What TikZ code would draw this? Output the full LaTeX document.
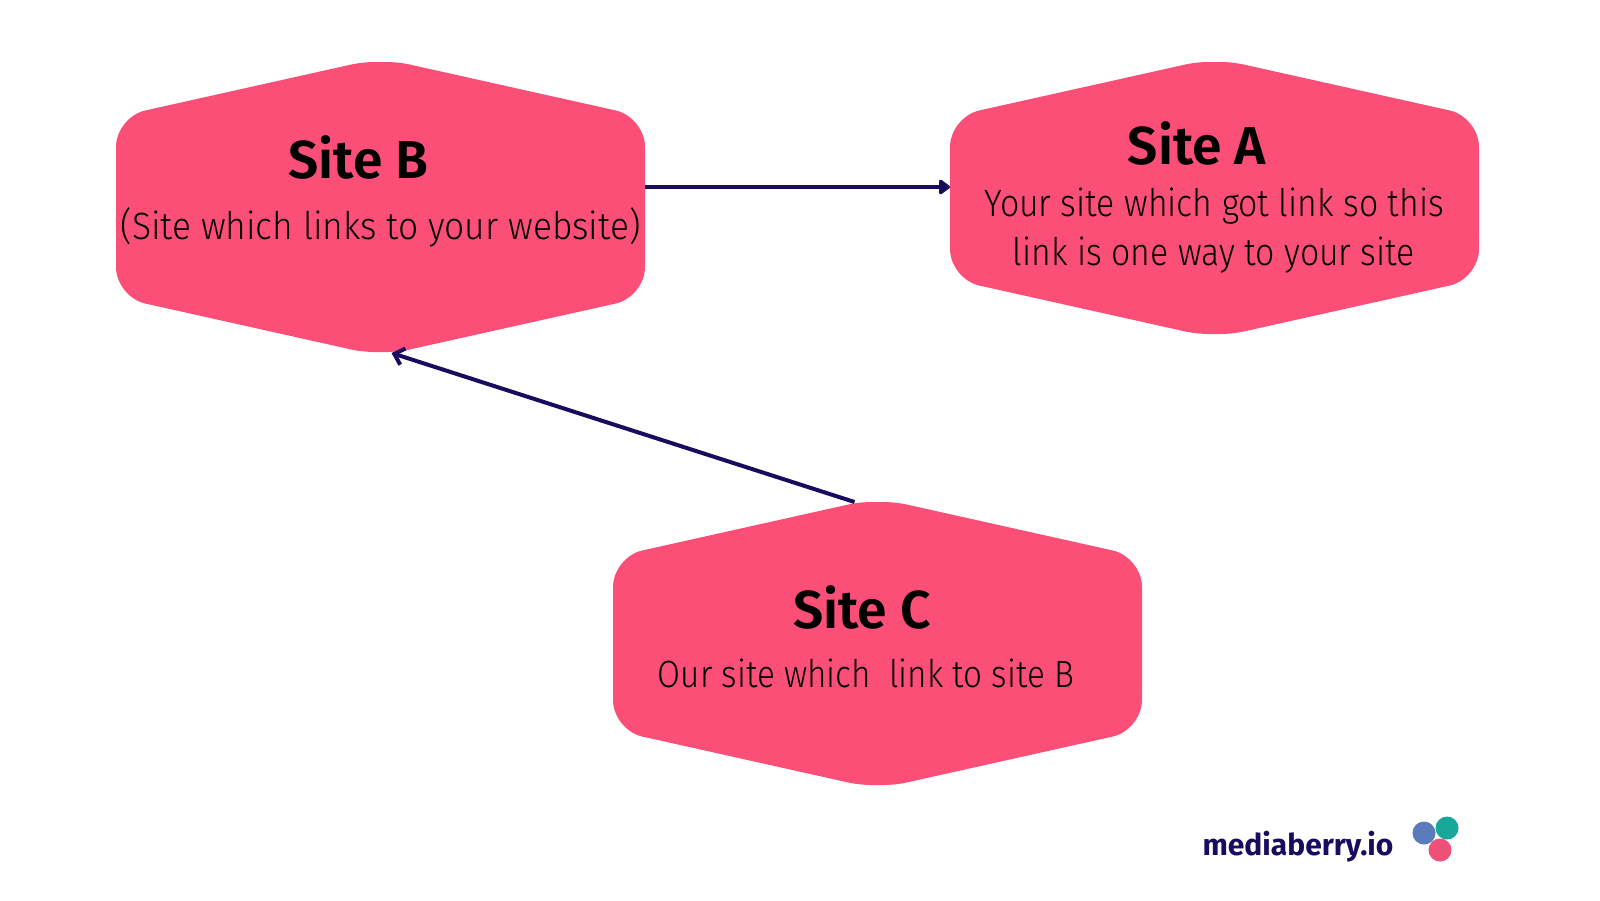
\documentclass[tikz,border=0pt]{standalone}
\usepackage{fontspec}
\setmainfont{Fira Sans}
\newfontfamily\bodyfont[UprightFont=* Light,FakeStretch=0.89]{Fira Sans}
\newfontfamily\bodyfontB[UprightFont=* Light,FakeStretch=0.93]{Fira Sans}
\newfontfamily\bodyfontC[UprightFont=* Light,FakeStretch=0.875]{Fira Sans}
\newfontfamily\titlefont[UprightFont=* SemiBold]{Fira Sans}
\newfontfamily\logofont[UprightFont=* Bold]{Fira Sans}
\usetikzlibrary{calc,arrows.meta}
\definecolor{sitepink}{HTML}{FB4F78}
\definecolor{navy}{HTML}{1A0B5E}
\definecolor{dotblue}{HTML}{5B7BBD}
\definecolor{dotteal}{HTML}{17A899}
\definecolor{dotpink}{HTML}{EF5078}
\tikzset{
  hexbox/.style={minimum width=264.5pt,minimum height=#1,inner sep=0pt,outer sep=0pt,
    path picture={
      \fill[sitepink,rounded corners=15pt]
        ($(path picture bounding box.north west)+(0,-27.5pt)$)
        -- ($(path picture bounding box.north)+(0,2pt)$)
        -- ($(path picture bounding box.north east)+(0,-27.5pt)$)
        -- ($(path picture bounding box.south east)+(0,27.5pt)$)
        -- ($(path picture bounding box.south)+(0,-2pt)$)
        -- ($(path picture bounding box.south west)+(0,27.5pt)$)
        -- cycle;
    }},
  titletext/.style={anchor=base,inner sep=0pt,font=\titlefont\fontsize{26.7}{30}\selectfont,text=black},
  bodytext/.style={anchor=base,inner sep=0pt,font=\bodyfont\fontsize{19}{24.5}\selectfont,text=black},
  link/.style={draw=navy,line width=2pt},
  dot/.style={circle,minimum size=11.5pt,inner sep=0pt,fill=#1},
}
\begin{document}
\begin{tikzpicture}[x=0.5pt,y=-0.5pt]
\useasboundingbox (0,0) rectangle (1600,900);
\node[hexbox=145pt] (siteB) at (380.5,207) {};
\node[hexbox=136pt] (siteA) at (1214.5,198) {};
\node[hexbox=141.5pt] (siteC) at (877.5,643.5) {};
\node[titletext] (titleB) at (358.7,178) {Site B};
\node[bodytext,font=\bodyfontB\fontsize{19}{24.5}\selectfont] (bodyB) at (380.6,239) {(Site which links to your website)};
\node[titletext] (titleA) at (1197,164) {Site A};
\node[bodytext] (bodyA1) at (1214,216) {Your site which got link so this};
\node[bodytext] (bodyA2) at (1214,265) {link is one way to your site};
\node[titletext] (titleC) at (862,628) {Site C};
\node[bodytext,font=\bodyfontC\fontsize{19}{24.5}\selectfont] (bodyC) at (866,687) {Our site which\ \ link to site B};
\draw[link,-{Triangle[length=6pt,width=8.5pt,round]}] ($(siteB.east)+(0,10pt)$) -- ($(siteA.west)+(0,5.5pt)$);
\draw[link,-{Straight Barb[length=4.5pt,width=8.5pt]}] ($(siteC.north)+(-11.5pt,0)$) -- ($(siteB.south)+(5.5pt,-0.5pt)$);
\node[anchor=base,inner sep=0pt,font=\logofont\fontsize{15}{18}\selectfont,text=navy] (logo) at (1298,855) {mediaberry.io};
\node[dot=dotteal] (dotA) at (1447,828) {};
\node[dot=dotblue] (dotB) at (1424,833) {};
\node[dot=dotpink] (dotC) at (1440,850) {};
\end{tikzpicture}
\end{document}
